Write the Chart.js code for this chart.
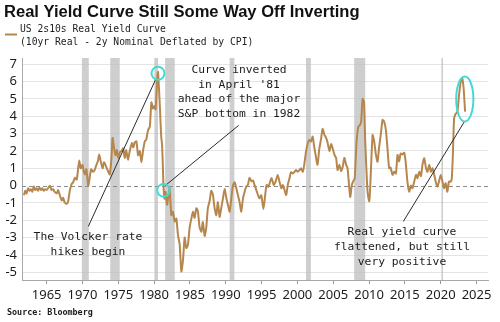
<!DOCTYPE html>
<html>
<head>
<meta charset="utf-8">
<script src="https://cdn.jsdelivr.net/npm/chart.js@4.4.1/dist/chart.umd.min.js"></script>
<style>
html,body{margin:0;padding:0;background:#fff;}
#wrap{width:500px;height:322px;position:relative;}
</style>
</head>
<body>
<div id="wrap"><canvas id="c" width="500" height="322"></canvas></div>
<script>
const years = [1961.84,1962.0,1962.2,1962.4,1962.6,1962.8,1963.0,1963.2,1963.4,1963.6,1963.8,1964.0,1964.2,1964.4,1964.6,1964.8,1965.0,1965.2,1965.45,1965.7,1965.9,1966.1,1966.4,1966.6,1966.8,1967.1,1967.3,1967.5,1967.8,1968.0,1968.25,1968.5,1968.7,1968.95,1969.2,1969.4,1969.55,1969.75,1970.0,1970.2,1970.35,1970.55,1970.8,1971.0,1971.2,1971.45,1971.7,1971.95,1972.15,1972.33,1972.55,1972.8,1973.0,1973.2,1973.5,1973.8,1974.05,1974.2,1974.4,1974.6,1974.8,1975.0,1975.25,1975.45,1975.67,1975.9,1976.1,1976.35,1976.6,1976.9,1977.1,1977.3,1977.53,1977.76,1978.0,1978.23,1978.45,1978.69,1978.9,1979.15,1979.4,1979.62,1979.85,1980.05,1980.2,1980.35,1980.45,1980.55,1980.65,1980.8,1980.9,1981.0,1981.1,1981.2,1981.3,1981.45,1981.6,1981.8,1982.0,1982.17,1982.4,1982.63,1982.87,1983.1,1983.33,1983.57,1983.8,1984.03,1984.26,1984.5,1984.72,1984.96,1985.2,1985.42,1985.65,1985.9,1986.1,1986.35,1986.6,1986.8,1987.05,1987.28,1987.5,1987.74,1987.98,1988.2,1988.44,1988.68,1988.9,1989.14,1989.37,1989.6,1989.84,1990.07,1990.3,1990.54,1990.77,1991.0,1991.23,1991.47,1991.7,1991.93,1992.16,1992.4,1992.63,1992.86,1993.1,1993.3,1993.6,1993.8,1994.0,1994.3,1994.7,1994.95,1995.26,1995.5,1995.7,1995.95,1996.2,1996.4,1996.7,1996.95,1997.25,1997.5,1997.75,1997.95,1998.2,1998.43,1998.65,1998.9,1999.1,1999.35,1999.6,1999.8,2000.05,2000.3,2000.5,2000.75,2000.95,2001.2,2001.45,2001.67,2001.9,2002.13,2002.3,2002.55,2002.8,2003.05,2003.3,2003.52,2003.75,2004.0,2004.2,2004.46,2004.7,2004.95,2005.2,2005.4,2005.6,2005.85,2006.1,2006.3,2006.55,2006.8,2007.0,2007.24,2007.38,2007.6,2007.85,2008.0,2008.26,2008.5,2008.73,2008.9,2009.1,2009.3,2009.45,2009.6,2009.8,2010.03,2010.2,2010.49,2010.7,2010.95,2011.18,2011.4,2011.65,2011.88,2012.1,2012.35,2012.58,2012.8,2013.0,2013.27,2013.5,2013.75,2013.97,2014.2,2014.4,2014.65,2014.9,2015.1,2015.35,2015.6,2015.85,2016.05,2016.3,2016.55,2016.75,2017.0,2017.25,2017.45,2017.7,2017.95,2018.15,2018.4,2018.62,2018.85,2019.1,2019.3,2019.54,2019.75,2020.0,2020.25,2020.47,2020.7,2020.93,2021.15,2021.4,2021.55,2021.7,2021.87,2022.1,2022.33,2022.55,2022.8,2023.0,2023.2,2023.4];
const realCurve = [-0.55,-0.3,-0.45,-0.15,-0.3,-0.2,-0.35,-0.05,-0.25,-0.15,-0.3,-0.1,-0.25,-0.15,-0.3,-0.2,-0.25,-0.15,0.0,-0.25,-0.2,-0.35,-0.45,-0.25,-0.5,-0.85,-0.7,-0.95,-1.05,-0.9,-0.25,0.1,0.2,0.45,0.35,1.0,1.45,1.0,1.2,0.8,0.65,0.95,0.0,0.45,0.95,0.8,0.9,1.2,1.4,1.8,1.4,1.0,1.35,1.2,0.9,0.65,1.6,2.75,2.2,1.75,2.05,1.6,1.95,2.0,2.15,1.6,2.05,1.5,2.0,2.45,2.2,2.5,2.55,1.75,2.0,1.35,2.0,2.55,2.65,3.2,3.4,4.8,4.45,4.6,4.4,5.5,6.35,6.55,5.8,4.6,3.6,2.8,2.4,1.4,0.05,-0.75,-0.35,-1.1,-0.6,-0.15,-1.7,-1.5,-2.07,-1.9,-2.85,-3.4,-4.95,-4.3,-3.0,-3.6,-3.4,-2.4,-1.9,-1.5,-1.85,-1.3,-1.45,-2.4,-2.65,-2.1,-2.9,-2.4,-1.3,-0.9,-0.3,-0.5,-1.3,-1.7,-0.95,-1.8,-1.3,-0.75,-0.2,-0.7,-1.1,-1.5,-0.75,0.0,0.2,-0.15,-0.55,-0.95,-1.5,-0.75,-0.35,-0.05,0.05,0.45,0.25,0.3,0.06,-0.3,-0.73,-0.55,-1.34,-0.55,0.04,-0.06,0.25,0.43,0.04,0.23,0.62,0.23,-0.15,0.04,-0.25,-0.54,0.04,0.43,0.77,0.7,0.8,0.9,0.8,0.9,1.0,0.8,1.2,1.96,2.45,2.64,2.55,2.83,2.35,1.75,1.2,2.1,2.7,3.27,2.95,2.75,2.5,2.0,2.4,2.1,1.75,1.6,0.9,1.2,0.85,1.05,1.6,1.2,1.0,-0.15,-0.65,0.05,0.3,0.4,2.55,3.4,3.5,3.7,5.0,4.8,2.7,1.2,-0.4,-0.9,0.3,2.92,2.6,1.8,1.38,2.2,3.0,3.79,3.7,3.2,2.1,1.0,1.05,0.62,0.8,0.7,1.77,1.4,1.85,1.8,1.9,1.4,0.25,-0.35,0.0,-0.15,0.23,0.62,0.43,0.8,0.55,1.2,1.58,1.0,0.8,1.2,0.8,1.0,0.62,0.23,-0.06,0.23,0.62,0.23,-0.15,0.14,-0.35,0.23,0.23,0.43,1.8,3.89,4.15,4.27,5.2,6.0,6.19,5.6,4.27];
const yearTicks = [1965,1970,1975,1980,1985,1990,1995,2000,2005,2010,2015,2020,2025];
const valueTicks = [-5,-4,-3,-2,-1,0,1,2,3,4,5,6,7];
const recessionStarts = [1969.92,1973.88,1980.04,1981.54,1990.54,2001.2,2007.92,2020.1];
const recessionEnds   = [1970.88,1975.2,1980.54,1982.88,1991.2,2001.88,2009.46,2020.32];

const LINE = '#b5874e';
const CYAN = '#45d9d6';
const TXT = '#1c1c1c';

const decor = {
  id: 'decor',
  beforeDatasetsDraw(chart) {
    const {ctx, chartArea: a, scales: {x, y}} = chart;
    ctx.save();
    ctx.fillStyle = 'rgba(190,190,190,0.75)';
    for (let i = 0; i < recessionStarts.length; i++) {
      const x0 = x.getPixelForValue(recessionStarts[i]);
      const x1 = x.getPixelForValue(recessionEnds[i]);
      ctx.fillRect(x0, a.top, Math.max(1.3, x1 - x0), a.bottom - a.top);
    }
    const y0 = Math.round(y.getPixelForValue(0)) + 0.5;
    ctx.strokeStyle = '#8a8a8a';
    ctx.lineWidth = 1;
    ctx.setLineDash([4, 3]);
    ctx.beginPath(); ctx.moveTo(a.left, y0); ctx.lineTo(a.right, y0); ctx.stroke();
    ctx.restore();
  },
  afterDraw(chart) {
    const {ctx, scales: {x, y}} = chart;
    ctx.save();
    ctx.fillStyle = '#111';
    ctx.textBaseline = 'alphabetic';
    ctx.textAlign = 'left';
    let fs = 15;
    ctx.font = `bold ${fs}px "Liberation Sans"`;
    const tw = ctx.measureText('Real Yield Curve Still Some Way Off Inverting').width;
    fs = fs * 356 / tw;
    ctx.font = `bold ${fs}px "Liberation Sans"`;
    ctx.fillText('Real Yield Curve Still Some Way Off Inverting', 4, 17);
    ctx.strokeStyle = LINE; ctx.lineWidth = 2;
    ctx.beginPath(); ctx.moveTo(5, 34.5); ctx.lineTo(17, 34.5); ctx.stroke();
    ctx.fillStyle = TXT;
    ctx.textBaseline = 'middle';
    ctx.font = '9.7px "DejaVu Sans Mono"';
    ctx.fillText('US 2s10s Real Yield Curve', 20, 29);
    ctx.fillText('(10yr Real - 2y Nominal Deflated by CPI)', 20, 42);
    ctx.font = 'bold 8.4px "DejaVu Sans Mono"';
    ctx.fillText('Source: Bloomberg', 7, 313);
    ctx.font = '11.3px "DejaVu Sans Mono"';
    ctx.textAlign = 'center';
    ['Curve inverted', "in April '81", 'ahead of the major', 'S&P bottom in 1982']
      .forEach((t, i) => ctx.fillText(t, 239, 70 + i * 14.6));
    ['The Volcker rate', 'hikes begin'].forEach((t, i) => ctx.fillText(t, 88, 237.3 + i * 14.5));
    ['Real yield curve', 'flattened, but still', 'very positive'].forEach((t, i) => ctx.fillText(t, 402, 232.3 + i * 14.7));
    ctx.strokeStyle = '#2a2a2a'; ctx.lineWidth = 1;
    const seg = (a, b, c, d) => { ctx.beginPath(); ctx.moveTo(a, b); ctx.lineTo(c, d); ctx.stroke(); };
    seg(88.3, 226.5, x.getPixelForValue(1980.22), y.getPixelForValue(6.13));
    seg(238.5, 125.5, x.getPixelForValue(1981.55), y.getPixelForValue(0.0));
    seg(403.3, 221.5, x.getPixelForValue(2023.35), y.getPixelForValue(3.72));
    ctx.strokeStyle = CYAN; ctx.lineWidth = 2;
    ctx.beginPath(); ctx.arc(x.getPixelForValue(1980.54), y.getPixelForValue(6.48), 6.5, 0, Math.PI * 2); ctx.stroke();
    ctx.beginPath(); ctx.arc(x.getPixelForValue(1981.3), y.getPixelForValue(-0.27), 6.3, 0, Math.PI * 2); ctx.stroke();
    ctx.beginPath(); ctx.ellipse(x.getPixelForValue(2023.36), y.getPixelForValue(4.99), 8.6, 22.5, 0, 0, Math.PI * 2); ctx.stroke();
    ctx.restore();
  }
};

new Chart(document.getElementById('c'), {
  type: 'line',
  data: {
    datasets: [{
      label: 'US 2s10s Real Yield Curve',
      data: years.map((yr, i) => ({x: yr, y: realCurve[i]})),
      borderColor: LINE,
      borderWidth: 2,
      pointRadius: 0,
      tension: 0.2,
      fill: false
    }]
  },
  options: {
    responsive: false,
    animation: false,
    events: [],
    layout: {padding: {top: 58, right: 12, left: 0, bottom: 0}},
    plugins: {legend: {display: false}, title: {display: false}, tooltip: {enabled: false}},
    scales: {
      x: {
        type: 'linear', min: 1961.56, max: 2026.6,
        afterFit(s) { s.height = 42; },
        afterBuildTicks(s) { s.ticks = yearTicks.map(v => ({value: v})); },
        grid: {drawOnChartArea: false, drawTicks: true, tickLength: 4, color: '#9a9a9a'},
        border: {display: true, color: '#a8a8a8'},
        ticks: {padding: 3, color: TXT, font: {family: 'Noto Sans', size: 13}, maxRotation: 0, autoSkip: false,
          callback: v => String(v)}
      },
      y: {
        type: 'linear', min: -5.44, max: 7.36,
        afterFit(s) { s.width = 22; },
        afterBuildTicks(s) { s.ticks = valueTicks.map(v => ({value: v})); },
        grid: {color: c => c.tick && c.tick.value === 0 ? 'rgba(0,0,0,0)' : '#e4e4e4', tickLength: 3, drawTicks: false},
        border: {display: true, color: '#a8a8a8'},
        ticks: {padding: 5, color: TXT, autoSkip: false, font: {family: 'Noto Sans', size: 13}, callback: v => String(v)}
      }
    }
  },
  plugins: [decor]
});
</script>
</body>
</html>
